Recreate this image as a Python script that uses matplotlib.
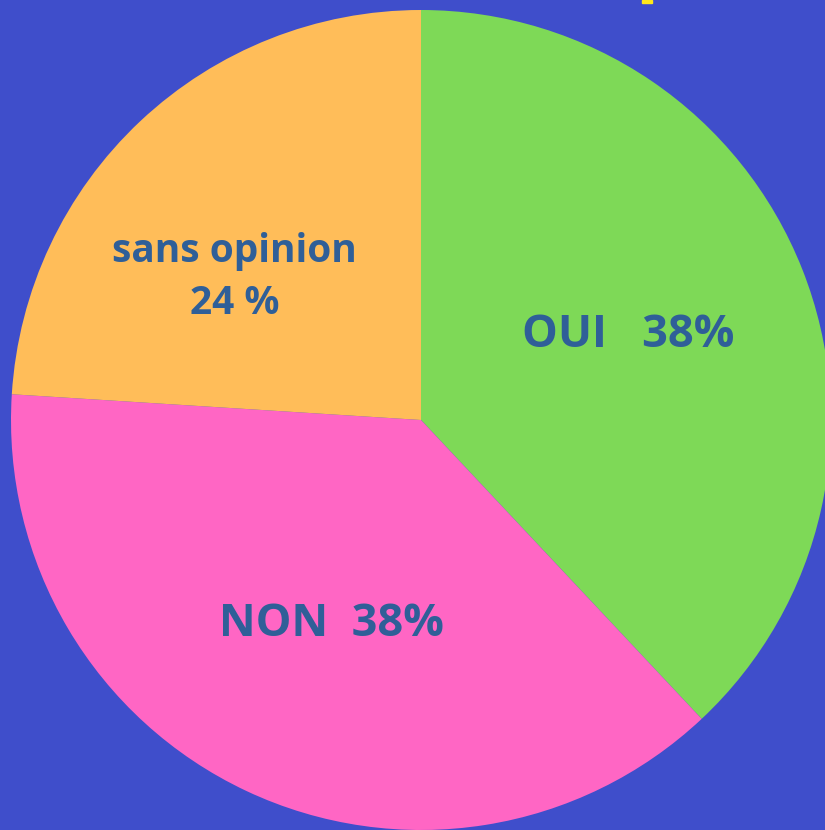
import matplotlib.pyplot as plt
from matplotlib.patches import Rectangle

# poll results
labels = ["OUI   38%", "NON  38%", "sans opinion\n24 %"]
values = [38, 38, 24]
colors = ["#7ED957", "#FF66C4", "#FFBD59"]

bg = "#3F4ECB"
text_color = "#2F5F98"

fig = plt.figure(figsize=(8.25, 8.3), dpi=100, facecolor=bg)
# pie centre at (421, 420) px, radius 410 px
ax = fig.add_axes([11 / 825, 0, 820 / 825, 820 / 830])
ax.set_facecolor(bg)

wedges, _ = ax.pie(values, colors=colors, startangle=90, counterclock=False,
                   radius=1.0, wedgeprops=dict(linewidth=0))
ax.set_xlim(-1, 1)
ax.set_ylim(-1, 1)
ax.set_aspect("equal")
ax.axis("off")

# label positions (data coords, radius 1 = 410 px)
label_pos = [(0.505, 0.205), (-0.219, -0.498), (-0.454, 0.348)]
sizes = [32.5, 32.5, 28]
for lab, (x, y), fs in zip(labels, label_pos, sizes):
    ax.text(x, y, lab, ha="center", va="center", fontsize=fs,
            fontweight="bold", family="Open Sans", color=text_color,
            linespacing=1.42)

# clipped fragment of yellow title at top edge
fig.patches.append(Rectangle((642 / 825, 1 - 3 / 830), 10 / 825, 3 / 830,
                             transform=fig.transFigure, color="#FFE81A"))

fig.savefig("out.png", dpi=100, facecolor=bg)
